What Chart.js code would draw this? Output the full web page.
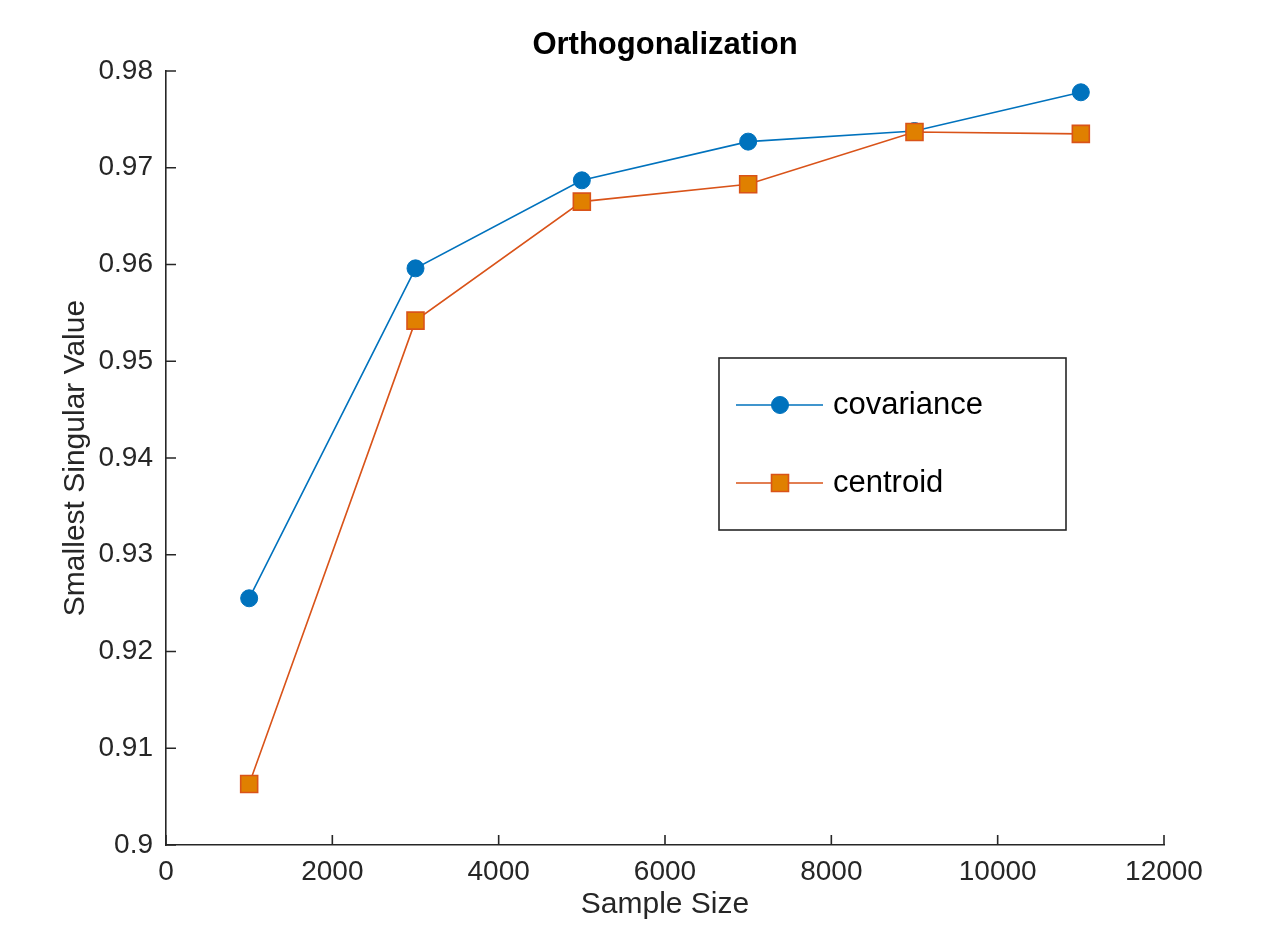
<!DOCTYPE html>
<html>
<head>
<meta charset="utf-8">
<title>Orthogonalization</title>
<script src="https://cdn.jsdelivr.net/npm/chart.js@4.4.1/dist/chart.umd.min.js"></script>
<style>
  html, body { margin: 0; padding: 0; background: #fff; }
  #wrap { width: 1288px; height: 950px; }
</style>
</head>
<body>
<div id="wrap"><canvas id="chart" width="1288" height="950"></canvas></div>
<script>
/* ─── data ─── */
const sampleSizes = [1000, 3000, 5000, 7000, 9000, 11000];
const covariance  = [0.9255, 0.9596, 0.9687, 0.9727, 0.9738, 0.9778];
const centroid    = [0.9063, 0.9542, 0.9665, 0.9683, 0.9737, 0.9735];
const xTicks = [0, 2000, 4000, 6000, 8000, 10000, 12000];
const yTicks = [0.9, 0.91, 0.92, 0.93, 0.94, 0.95, 0.96, 0.97, 0.98];

const TITLE  = 'Orthogonalization';
const XLABEL = 'Sample Size';
const YLABEL = 'Smallest Singular Value';

/* ─── style ─── */
const FONT = '"Liberation Sans", Arial, Helvetica, sans-serif';
const AXIS = '#262626';
const BLUE = '#0072BD';
const ORANGE = '#D95319';
const ORANGE_FILL = '#E08000';

const pts = ys => sampleSizes.map((x, i) => ({ x, y: ys[i] }));

/* MATLAB-like decorations: inward ticks, title, axis labels, boxed legend */
const matlabDeco = {
    id: 'matlabDeco',
    afterDatasetsDraw(chart) {
        const { ctx, chartArea: a, scales: { x, y } } = chart;
        ctx.save();
        ctx.strokeStyle = AXIS;
        ctx.lineWidth = 1.6;
        const tl = 10;
        ctx.beginPath();
        xTicks.forEach(v => {
            const px = x.getPixelForValue(v);
            ctx.moveTo(px, a.bottom); ctx.lineTo(px, a.bottom - tl);
        });
        yTicks.forEach(v => {
            const py = y.getPixelForValue(v);
            ctx.moveTo(a.left, py); ctx.lineTo(a.left + tl, py);
        });
        ctx.stroke();

        /* title */
        const cx = (a.left + a.right) / 2;
        ctx.fillStyle = '#000';
        ctx.textAlign = 'center';
        ctx.textBaseline = 'alphabetic';
        ctx.font = `bold 31px ${FONT}`;
        ctx.fillText(TITLE, cx, 54);

        /* axis labels */
        ctx.fillStyle = AXIS;
        ctx.font = `30px ${FONT}`;
        ctx.fillText(XLABEL, cx, 913);
        ctx.save();
        ctx.translate(84, (a.top + a.bottom) / 2);
        ctx.rotate(-Math.PI / 2);
        ctx.fillText(YLABEL, 0, 0);
        ctx.restore();

        /* legend */
        const lx = 719, ly = 358, lw = 347, lh = 172;
        ctx.fillStyle = '#fff';
        ctx.fillRect(lx, ly, lw, lh);
        ctx.strokeStyle = AXIS;
        ctx.lineWidth = 1.6;
        ctx.strokeRect(lx, ly, lw, lh);
        const rows = [{ ds: chart.data.datasets[0], yy: 405 }, { ds: chart.data.datasets[1], yy: 483 }];
        rows.forEach(({ ds, yy }) => {
            ctx.strokeStyle = ds.borderColor;
            ctx.lineWidth = ds.borderWidth;
            ctx.beginPath();
            ctx.moveTo(736, yy); ctx.lineTo(823, yy);
            ctx.stroke();
            ctx.fillStyle = ds.pointBackgroundColor;
            ctx.strokeStyle = ds.pointBorderColor;
            ctx.lineWidth = ds.pointBorderWidth;
            Chart.helpers.drawPoint(ctx, {
                pointStyle: ds.pointStyle, rotation: 0,
                radius: ds.pointRadius,
                borderWidth: ds.pointBorderWidth,
            }, 780, yy);
            ctx.fillStyle = '#000';
            ctx.textAlign = 'left';
            ctx.textBaseline = 'middle';
            ctx.font = `31px ${FONT}`;
            ctx.fillText(ds.label, 833, yy);
        });
        ctx.restore();
    },
};

new Chart(document.getElementById('chart'), {
    type: 'line',
    data: {
        datasets: [{
            label: 'covariance',
            order: 1,
            data: pts(covariance),
            borderColor: BLUE,
            borderWidth: 1.6,
            pointStyle: 'circle',
            pointRadius: 8.5,
            pointBackgroundColor: BLUE,
            pointBorderColor: BLUE,
            pointBorderWidth: 1,
            tension: 0,
        }, {
            label: 'centroid',
            order: 0,
            data: pts(centroid),
            borderColor: ORANGE,
            borderWidth: 1.6,
            pointStyle: 'rect',
            pointRadius: 12,
            pointBackgroundColor: ORANGE_FILL,
            pointBorderColor: ORANGE,
            pointBorderWidth: 1.6,
            tension: 0,
        }],
    },
    options: {
        responsive: false,
        animation: false,
        devicePixelRatio: 1,
        layout: { padding: { left: 0, right: 124, top: 71, bottom: 0 } },
        plugins: {
            legend: { display: false },
            title: { display: false },
            tooltip: { enabled: false },
        },
        scales: {
            x: {
                type: 'linear',
                min: 0, max: 12000,
                afterBuildTicks: s => { s.ticks = xTicks.map(value => ({ value })); },
                afterFit: s => { s.height = 105; },
                grid: { display: false, drawTicks: false },
                border: { display: true, color: AXIS, width: 1.6 },
                ticks: {
                    color: AXIS,
                    padding: 10,
                    font: { family: FONT, size: 28 },
                    callback: v => String(v),
                    maxRotation: 0,
                },
            },
            y: {
                type: 'linear',
                min: 0.9, max: 0.98,
                afterBuildTicks: s => { s.ticks = yTicks.map(value => ({ value })); },
                afterFit: s => { s.width = 166; },
                grid: { display: false, drawTicks: false },
                border: { display: true, color: AXIS, width: 1.6 },
                ticks: {
                    color: AXIS,
                    padding: 13,
                    font: { family: FONT, size: 28 },
                    callback: v => String(+v.toFixed(2)),
                },
            },
        },
    },
    plugins: [matlabDeco],
});
</script>
</body>
</html>
